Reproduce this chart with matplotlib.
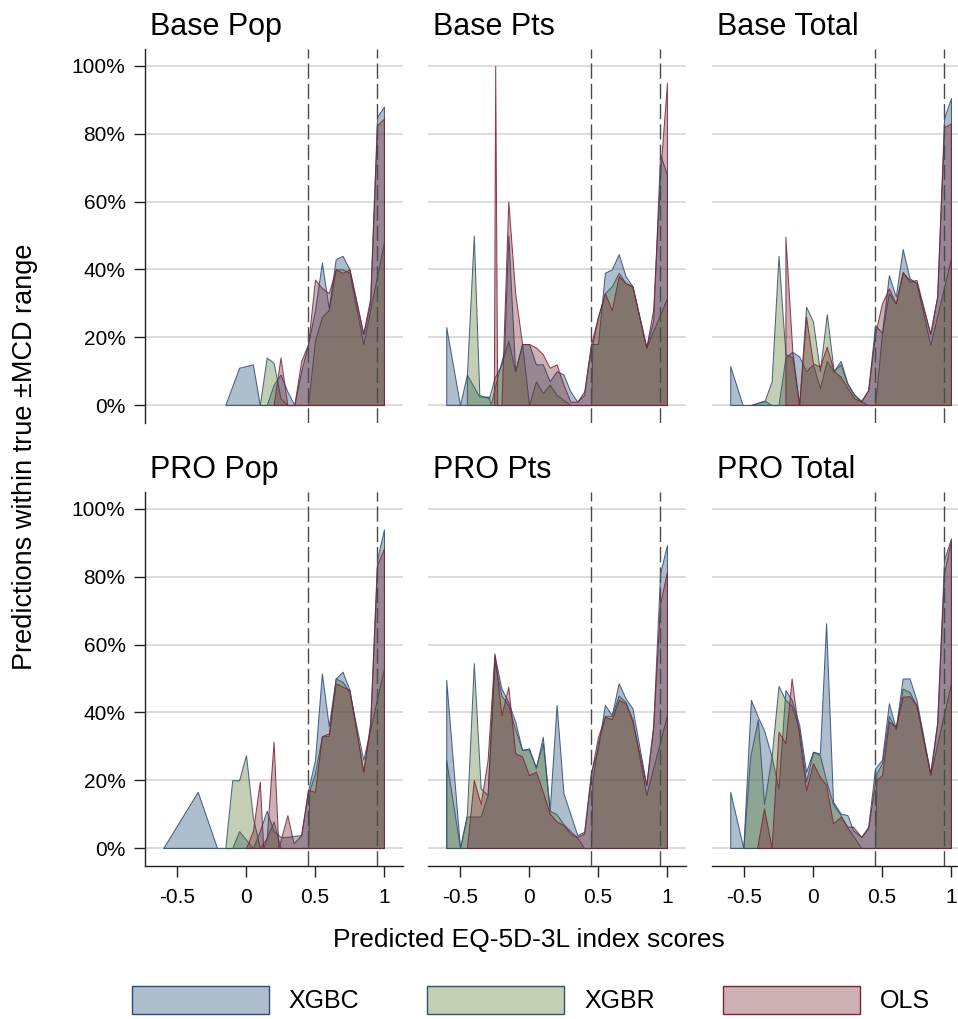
import matplotlib
matplotlib.use("Agg")
import matplotlib.pyplot as plt
from matplotlib.colors import to_rgba
from matplotlib.patches import Patch
from matplotlib.transforms import offset_copy

plt.rcParams['font.family'] = ['Liberation Sans', 'DejaVu Sans']

# ---- data: share (%) of predictions within true +/-MCD range, by predicted score ----
# Base Pop
base_pop_xgbc_x = [-0.15, -0.05, 0.05, 0.10, 0.15, 0.20, 0.25, 0.30, 0.35, 0.40, 0.45, 0.50, 0.55, 0.60, 0.65, 0.70, 0.75, 0.85, 0.90, 0.95, 1.00]
base_pop_xgbc_y = [0, 11, 12, 0, 0, 6, 9, 4, 0, 10, 18, 28, 42, 28.5, 43, 44, 40, 21, 31.5, 85, 88]
base_pop_xgbr_x = [0.10, 0.15, 0.20, 0.25, 0.30, 0.45, 0.50, 0.55, 0.60, 0.65, 0.70, 0.75, 0.85, 1.00]
base_pop_xgbr_y = [0, 14, 12.5, 2, 0, 0, 19, 26, 28, 40, 40, 39, 18, 48]
base_pop_ols_x = [0.20, 0.25, 0.30, 0.35, 0.40, 0.45, 0.50, 0.55, 0.60, 0.65, 0.70, 0.75, 0.85, 0.90, 0.95, 1.00]
base_pop_ols_y = [0, 14, 0, 0, 13, 18, 37, 34.5, 33, 40, 39, 40, 21, 30, 82.5, 84.5]

# Base Pts
base_pts_xgbc_x = [-0.60, -0.50, -0.45, -0.36, -0.29, -0.28, -0.18, -0.15, -0.10, -0.05, 0.00, 0.05, 0.10, 0.15, 0.20, 0.25, 0.30, 0.35, 0.40, 0.45, 0.50, 0.55, 0.60, 0.65, 0.70, 0.75, 0.85, 0.90, 0.95, 1.00]
base_pts_xgbc_y = [23, 0, 9, 2.5, 2.5, 0, 16, 50, 10, 18, 18, 12, 12, 7, 10, 9, 4, 1, 3, 18, 18, 39, 40, 44.5, 38, 35, 17, 25, 74, 68]
base_pts_xgbr_x = [-0.45, -0.40, -0.36, -0.29, -0.25, -0.20, -0.15, -0.10, -0.05, 0.00, 0.05, 0.10, 0.15, 0.20, 0.30, 0.45, 0.46, 0.50, 0.55, 0.60, 0.65, 0.70, 0.75, 0.85, 1.00]
base_pts_xgbr_y = [9, 50, 3, 2, 8, 12, 19, 10, 18, 0, 7, 3.5, 6, 3, 0, 0, 18, 26, 33, 35, 39, 36, 35, 17, 31.5]
base_pts_ols_x = [-0.255, -0.245, -0.23, -0.20, -0.15, -0.10, -0.05, 0.00, 0.05, 0.10, 0.15, 0.20, 0.25, 0.30, 0.35, 0.40, 0.45, 0.50, 0.55, 0.60, 0.65, 0.70, 0.75, 0.85, 0.90, 0.95, 1.00]
base_pts_ols_y = [0, 100, 0, 0, 60, 33, 18, 18, 17, 15, 11, 12, 6, 1, 1, 4, 18, 26, 33, 28, 38, 36, 35, 17, 28, 68, 95]

# Base Total
base_tot_xgbc_x = [-0.60, -0.51, -0.45, -0.35, -0.30, -0.25, -0.20, -0.15, -0.10, -0.05, 0.00, 0.05, 0.10, 0.15, 0.20, 0.25, 0.30, 0.35, 0.40, 0.45, 0.50, 0.55, 0.60, 0.65, 0.70, 0.75, 0.85, 0.90, 0.95, 1.00]
base_tot_xgbc_y = [11.5, 0, 0, 1.3, 0, 0, 14, 15.7, 14.3, 10, 12, 5, 13, 10, 13, 6.4, 3, 1.3, 4.4, 23.6, 21.3, 38.3, 32, 46, 37.4, 36, 21, 32, 84.6, 90.5]
base_tot_xgbr_x = [-0.45, -0.35, -0.30, -0.25, -0.20, -0.15, -0.10, -0.05, 0.00, 0.05, 0.10, 0.15, 0.20, 0.25, 0.30, 0.35, 0.40, 0.45, 0.50, 0.55, 0.60, 0.65, 0.70, 0.75, 0.85, 1.00]
base_tot_xgbr_y = [0, 1.3, 7, 44, 15, 14, 0, 29, 24.6, 10, 26.8, 10, 12, 6, 3, 1, 0, 0, 21, 33, 30, 39, 37, 36, 17.7, 43.3]
base_tot_ols_x = [-0.20, -0.15, -0.10, -0.05, 0.00, 0.05, 0.10, 0.15, 0.20, 0.25, 0.30, 0.35, 0.40, 0.45, 0.50, 0.55, 0.60, 0.65, 0.70, 0.75, 0.85, 0.90, 0.95, 1.00]
base_tot_ols_y = [49.7, 16, 0, 26, 12.3, 11.3, 17.2, 10, 8.4, 5, 2, 1, 4.4, 21, 30, 34.4, 30, 39.3, 36.4, 36.9, 21, 32, 82, 83]

# PRO Pop
pro_pop_xgbc_x = [-0.60, -0.35, -0.21, -0.10, -0.05, 0.05, 0.10, 0.15, 0.20, 0.25, 0.30, 0.35, 0.40, 0.45, 0.50, 0.55, 0.60, 0.65, 0.70, 0.75, 0.85, 0.90, 0.95, 1.00]
pro_pop_xgbc_y = [0, 16.6, 0, 0, 5, 0, 5, 11, 5, 3.3, 3.3, 3.6, 3.8, 17, 26, 51.5, 36, 50, 52, 46.6, 22.5, 37, 85, 94]
pro_pop_xgbr_x = [-0.15, -0.10, -0.05, 0.00, 0.05, 0.10, 0.15, 0.20, 0.25, 0.45, 0.46, 0.50, 0.55, 0.60, 0.65, 0.70, 0.75, 0.85, 1.00]
pro_pop_xgbr_y = [0, 20, 20, 27.4, 9, 0, 3, 7.8, 0, 0, 17, 22, 33, 33, 50, 49, 46, 26, 53]
pro_pop_ols_x = [0.00, 0.05, 0.10, 0.125, 0.15, 0.20, 0.235, 0.30, 0.345, 0.40, 0.45, 0.50, 0.55, 0.60, 0.65, 0.70, 0.75, 0.85, 0.90, 0.95, 1.00]
pro_pop_ols_y = [0, 5, 19.6, 0, 3, 31.4, 0, 9.7, 1.4, 3.8, 17.1, 16.6, 33, 33.8, 48.6, 47.6, 46.6, 22.5, 36, 83.5, 88.4]

# PRO Pts
pro_pts_xgbc_x = [-0.60, -0.50, -0.45, -0.35, -0.30, -0.25, -0.20, -0.15, -0.10, -0.05, 0.00, 0.05, 0.10, 0.15, 0.20, 0.25, 0.30, 0.35, 0.40, 0.45, 0.50, 0.55, 0.60, 0.65, 0.70, 0.75, 0.85, 0.90, 0.95, 1.00]
pro_pts_xgbc_y = [49.6, 0, 9.3, 9.3, 15.6, 56.9, 47.1, 43, 37.3, 28.9, 29.4, 23.5, 32.8, 11.2, 42.2, 16.1, 10, 3.8, 4.8, 22.5, 29.4, 42.2, 39.2, 48.6, 44.1, 41.2, 18.6, 35.8, 81, 89.4]
pro_pts_xgbr_x = [-0.60, -0.50, -0.45, -0.40, -0.35, -0.30, -0.25, -0.20, -0.15, -0.10, -0.05, 0.00, 0.05, 0.10, 0.15, 0.20, 0.25, 0.30, 0.35, 0.40, 0.45, 0.46, 0.50, 0.55, 0.60, 0.65, 0.70, 0.75, 0.85, 1.00]
pro_pts_xgbr_y = [26, 0, 10, 54.5, 17.6, 15.6, 55, 45, 42, 35, 29, 29, 24, 31, 11, 10, 7, 5, 3, 0, 0, 20, 31, 39, 39, 45, 43, 38, 15.6, 39.2]
pro_pts_ols_x = [-0.45, -0.40, -0.35, -0.30, -0.25, -0.20, -0.15, -0.10, -0.05, 0.00, 0.05, 0.10, 0.15, 0.20, 0.25, 0.30, 0.35, 0.40, 0.45, 0.50, 0.55, 0.60, 0.65, 0.70, 0.75, 0.85, 0.90, 0.95, 1.00]
pro_pts_ols_y = [0, 20, 13, 26, 57.4, 39.2, 47.6, 28, 27, 21.5, 22.5, 16.6, 10.2, 7.8, 6.8, 4.3, 3.3, 4.3, 22, 32.8, 38.7, 38, 43.7, 42.7, 37.3, 18.6, 35.8, 72, 81.5]

# PRO Total
pro_tot_xgbc_x = [-0.60, -0.505, -0.45, -0.40, -0.355, -0.30, -0.25, -0.20, -0.155, -0.10, -0.05, 0.00, 0.05, 0.095, 0.145, 0.20, 0.25, 0.29, 0.35, 0.40, 0.45, 0.50, 0.55, 0.60, 0.65, 0.70, 0.75, 0.85, 0.90, 0.95, 1.00]
pro_tot_xgbc_y = [16.6, 0, 43.7, 38.7, 34.8, 27, 17.6, 46.6, 43.7, 36.3, 22.5, 28.4, 27.9, 66.3, 13.7, 10.2, 9.7, 5.3, 3.3, 6.3, 23.5, 26, 42.7, 35.3, 50, 50, 43.7, 22, 36.8, 85, 91.3]
pro_tot_xgbr_x = [-0.505, -0.455, -0.40, -0.355, -0.30, -0.25, -0.20, -0.155, -0.10, -0.05, 0.00, 0.05, 0.095, 0.145, 0.20, 0.25, 0.30, 0.35, 0.45, 0.46, 0.50, 0.55, 0.60, 0.65, 0.70, 0.75, 0.85, 1.00]
pro_tot_xgbr_y = [0, 27, 37.8, 13, 27, 47.8, 43.7, 42, 35, 19.6, 28.4, 27.4, 20, 13, 9.7, 6, 3, 0, 0, 22, 25, 39, 35, 47, 46, 42, 21.5, 48.6]
pro_tot_ols_x = [-0.405, -0.355, -0.30, -0.25, -0.20, -0.155, -0.10, -0.05, 0.00, 0.05, 0.095, 0.145, 0.20, 0.25, 0.29, 0.35, 0.40, 0.45, 0.50, 0.55, 0.60, 0.65, 0.70, 0.75, 0.85, 0.90, 0.95, 1.00]
pro_tot_ols_y = [0, 11.7, 0, 34.3, 30.9, 50, 33, 17.1, 25, 21, 18.6, 7.3, 9.2, 6.3, 6.3, 3.3, 5.8, 19.6, 21.5, 37.3, 35.8, 44.6, 44.8, 42.2, 22, 36.8, 81, 90.8]

titles = ['Base Pop', 'Base Pts', 'Base Total', 'PRO Pop', 'PRO Pts', 'PRO Total']
models = ['XGBC', 'XGBR', 'OLS']
cutoffs = [0.45, 0.95]
xtick_vals = [-0.5, 0, 0.5, 1]
xtick_labels = ['-0.5', '0', '0.5', '1']
ytick_vals = [0, 20, 40, 60, 80, 100]

panels = [
    [(base_pop_xgbc_x, base_pop_xgbc_y), (base_pop_xgbr_x, base_pop_xgbr_y), (base_pop_ols_x, base_pop_ols_y)],
    [(base_pts_xgbc_x, base_pts_xgbc_y), (base_pts_xgbr_x, base_pts_xgbr_y), (base_pts_ols_x, base_pts_ols_y)],
    [(base_tot_xgbc_x, base_tot_xgbc_y), (base_tot_xgbr_x, base_tot_xgbr_y), (base_tot_ols_x, base_tot_ols_y)],
    [(pro_pop_xgbc_x, pro_pop_xgbc_y), (pro_pop_xgbr_x, pro_pop_xgbr_y), (pro_pop_ols_x, pro_pop_ols_y)],
    [(pro_pts_xgbc_x, pro_pts_xgbc_y), (pro_pts_xgbr_x, pro_pts_xgbr_y), (pro_pts_ols_x, pro_pts_ols_y)],
    [(pro_tot_xgbc_x, pro_tot_xgbc_y), (pro_tot_xgbr_x, pro_tot_xgbr_y), (pro_tot_ols_x, pro_tot_ols_y)],
]

# colours (fill base colour drawn translucent, outline)
fill_cols = ['#1a476f', '#55782a', '#6e1e28']
edge_cols = ['#2b4a78', '#34506e', '#7d2430']
fill_alpha = 0.35

W, H = 958, 1019
fig = plt.figure(figsize=(W / 100, H / 100), dpi=100)

col_left = [145, 428, 712]
row_bottom = [423, 866]
ax_w, ax_h = 258, 374

for i, (title, series) in enumerate(zip(titles, panels)):
    r, c = divmod(i, 3)
    ax = fig.add_axes([col_left[c] / W, 1 - row_bottom[r] / H, ax_w / W, ax_h / H])

    for (xs, ys), fc, ec in zip(series, fill_cols, edge_cols):
        ax.fill_between(xs, ys, 0, facecolor=to_rgba(fc, fill_alpha),
                        edgecolor=to_rgba(ec, 0.85), linewidth=0.75, zorder=2)

    for xc in cutoffs:
        ax.axvline(xc, color='#4a4a4a', lw=1.0, ls=(0, (11, 3.6)), zorder=4)

    ax.set_xlim(-0.732, 1.138)
    ax.set_ylim(-5.3, 105)
    ax.set_yticks(ytick_vals)
    ax.set_yticklabels([f'{v}%' for v in ytick_vals])
    ax.set_xticks(xtick_vals)
    ax.set_xticklabels(xtick_labels)

    ax.set_axisbelow(True)
    ax.yaxis.grid(True, color='#d9d9d9', linewidth=1.3)

    for s in ax.spines.values():
        s.set_visible(False)
    if c == 0:
        ax.spines['left'].set_visible(True)
        ax.spines['left'].set_linewidth(1.0)
        ax.spines['left'].set_color('#222222')
    if r == 1:
        ax.spines['bottom'].set_visible(True)
        ax.spines['bottom'].set_linewidth(1.0)
        ax.spines['bottom'].set_color('#222222')

    ax.tick_params(axis='y', left=(c == 0), labelleft=(c == 0), length=8,
                   width=1.0, pad=6, labelsize=15, color='#222222')
    ax.tick_params(axis='x', bottom=(r == 1), labelbottom=(r == 1), length=8,
                   width=1.0, pad=8, labelsize=15, color='#222222')

    tr = offset_copy(ax.transAxes, fig=fig, y=14, units='dots')
    ax.text(0.02, 1.0, title, transform=tr, fontsize=22, ha='left', va='baseline')

fig.text(0.026, 0.5515, 'Predictions within true ±MCD range', rotation=90,
         ha='center', va='center', fontsize=19.5)
fig.text(0.552, 0.0775, 'Predicted EQ-5D-3L index scores',
         ha='center', va='center', fontsize=19)

handles = [Patch(facecolor=to_rgba(fc, fill_alpha), edgecolor=ec, linewidth=1.0)
           for fc, ec in zip(fill_cols, edge_cols)]
fig.legend(handles, models, loc='center', bbox_to_anchor=(0.554, 0.0186), ncol=3,
           frameon=False, fontsize=18, handlelength=5.48, handleheight=1.36,
           handletextpad=0.8, columnspacing=2.72, borderpad=0)

fig.savefig('out.png', dpi=100)
